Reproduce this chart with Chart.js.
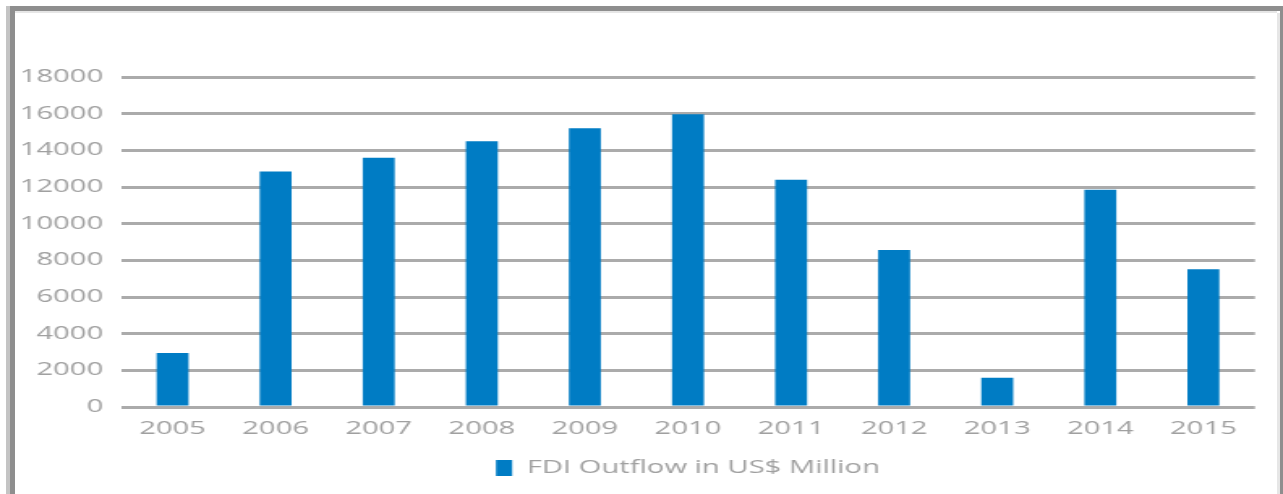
<!DOCTYPE html>
<html>
<head>
<meta charset="utf-8">
<script src="https://cdn.jsdelivr.net/npm/chart.js@4.4.1/dist/chart.umd.min.js"></script>
<style>
  html, body { margin: 0; padding: 0; background: #ffffff; overflow: hidden; }
  #page { position: relative; width: 1283px; height: 494px; background: #fff; }
  #wrap { position: absolute; left: 0; top: 0; width: 792px; height: 494px; transform: scaleX(1.6199); transform-origin: 0 0; }
  .fr { position: absolute; }
</style>
</head>
<body>
<div id="page">
  <div id="wrap"><canvas id="c"></canvas></div>
  <div class="fr" style="left:10px;top:6px;width:1273px;height:5px;background:#8e8e8e;"></div>
  <div class="fr" style="left:15px;top:11px;width:1262px;height:2px;background:#e6e6e6;"></div>
  <div class="fr" style="left:6px;top:6px;width:4px;height:488px;background:#c4c4c4;"></div>
  <div class="fr" style="left:10px;top:6px;width:5px;height:488px;background:#8e8e8e;"></div>
  <div class="fr" style="left:1277px;top:13px;width:3px;height:481px;background:#e6e6e6;"></div>
  <div class="fr" style="left:1280px;top:6px;width:3px;height:488px;background:#8e8e8e;"></div>
</div>
<script>
const categories = ['2005','2006','2007','2008','2009','2010','2011','2012','2013','2014','2015'];
const fdiOutflow = [2950, 12850, 13600, 14500, 15200, 15970, 12400, 8560, 1600, 11850, 7520];
const seriesLabel = 'FDI Outflow in US$ Million';
const yTicks = [0, 2000, 4000, 6000, 8000, 10000, 12000, 14000, 16000, 18000];

const textColor = '#a0a0a0';
const font = { family: "'Open Sans', 'Liberation Sans', sans-serif", size: 18 };

new Chart(document.getElementById('c'), {
  type: 'bar',
  data: {
    labels: categories,
    datasets: [{
      label: seriesLabel,
      data: fdiOutflow,
      backgroundColor: '#007cc4',
      borderWidth: 0,
      barPercentage: 0.31,
      categoryPercentage: 1.0
    }]
  },
  options: {
    responsive: true,
    maintainAspectRatio: false,
    animation: false,
    devicePixelRatio: 1,
    layout: { padding: { top: 77, right: 17.3, bottom: 7, left: 0 } },
    plugins: {
      legend: {
        position: 'bottom',
        fullSize: false,
        labels: { color: textColor, font: font, boxWidth: 10, boxHeight: 16, padding: 10 }
      },
      tooltip: { enabled: false }
    },
    scales: {
      x: {
        grid: { display: false, drawTicks: false },
        border: { display: false },
        ticks: { color: textColor, font: font, padding: 11, maxRotation: 0 },
        afterFit: (s) => { s.height = 42; }
      },
      y: {
        min: 0,
        max: 18000,
        afterBuildTicks: (s) => { s.ticks = yTicks.map(v => ({ value: v })); },
        grid: { color: '#ababab', lineWidth: 3, drawTicks: false },
        border: { display: false },
        ticks: { color: textColor, font: font, padding: 11, callback: (v) => String(v) },
        afterFit: (s) => { s.width = 74.7; }
      }
    }
  }
});
</script>
</body>
</html>
